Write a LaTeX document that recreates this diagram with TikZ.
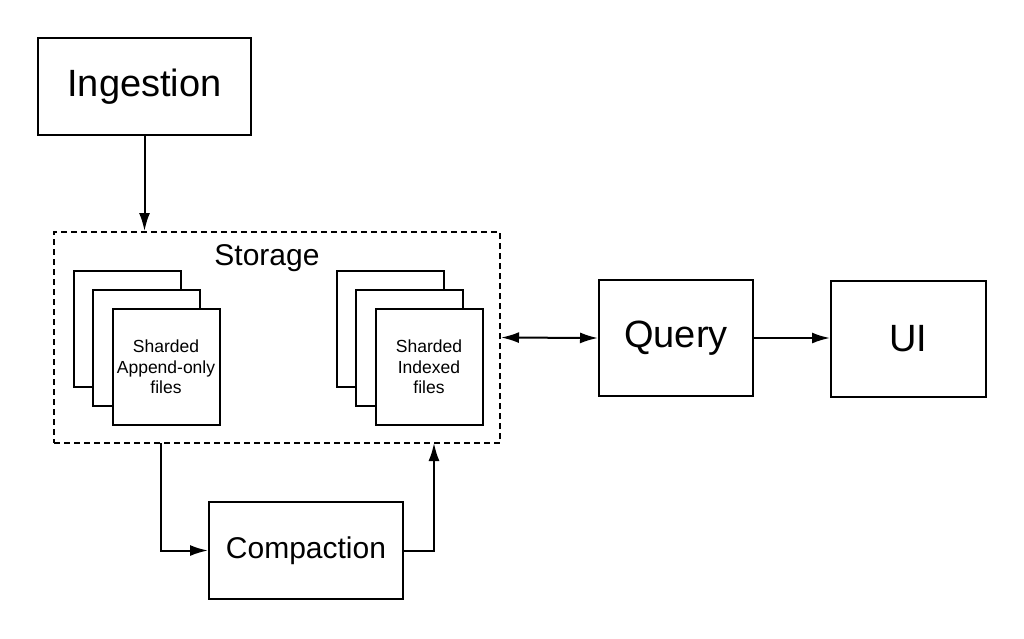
\documentclass[tikz,border=0pt]{standalone}
\usepackage{fontspec}
\setmainfont{Liberation Sans}
\usetikzlibrary{arrows.meta, positioning}

\begin{document}
\begin{tikzpicture}[x=1pt, y=-1pt, >={Latex[length=18pt,width=11pt]}, line width=2pt,
    block/.style={draw, inner sep=0pt, font=\fontsize{38}{44}\selectfont},
    file/.style={draw, fill=white, minimum width=107pt, minimum height=116pt, inner sep=0pt, align=center, font=\fontsize{17.5}{20.5}\selectfont}]

    \useasboundingbox (0,0) rectangle (1024,638);

    \node[block, minimum width=213pt, minimum height=97pt] (ingest) at (144.5,86.5) {Ingestion};

    \node[draw, dashed, dash pattern=on 6pt off 4pt, minimum width=446pt, minimum height=211pt, inner sep=0pt] (storage) at (277,337.5) {};
    \node[font=\fontsize{30}{36}\selectfont] (storelabel) at (267,258) {Storage};

    % append-only stack
    \node[file] (app3) at (127.5,328.5) {};
    \node[file] (app2) at (146.5,348) {};
    \node[file] (app1) at (166,367) {Sharded\\Append-only\\files};

    % indexed stack
    \node[file] (idx3) at (390,328.5) {};
    \node[file] (idx2) at (409.5,348) {};
    \node[file] (idx1) at (429,367) {Sharded\\Indexed\\files};

    \node[block, minimum width=154pt, minimum height=116pt] (query) at (676,338) {Query};
    \node[block, minimum width=155pt, minimum height=116pt] (ui) at (908.5,338.5) {UI};
    \node[block, minimum width=194pt, minimum height=97pt, font=\fontsize{30}{36}\selectfont] (compact) at (306,550.5) {Compaction};

    \coordinate (cin) at (161,443);
    \coordinate (cout) at (434,443);

    \draw[->] (ingest.south) -- (ingest.south |- storage.north);
    \draw[<->] (storage.east) -- (query.west);
    \draw[->] (query.east) -- (ui.west |- query.east);
    \draw[->] (cin) |- (compact.west);
    \draw[->] (compact.east) -| (cout);

\end{tikzpicture}
\end{document}
